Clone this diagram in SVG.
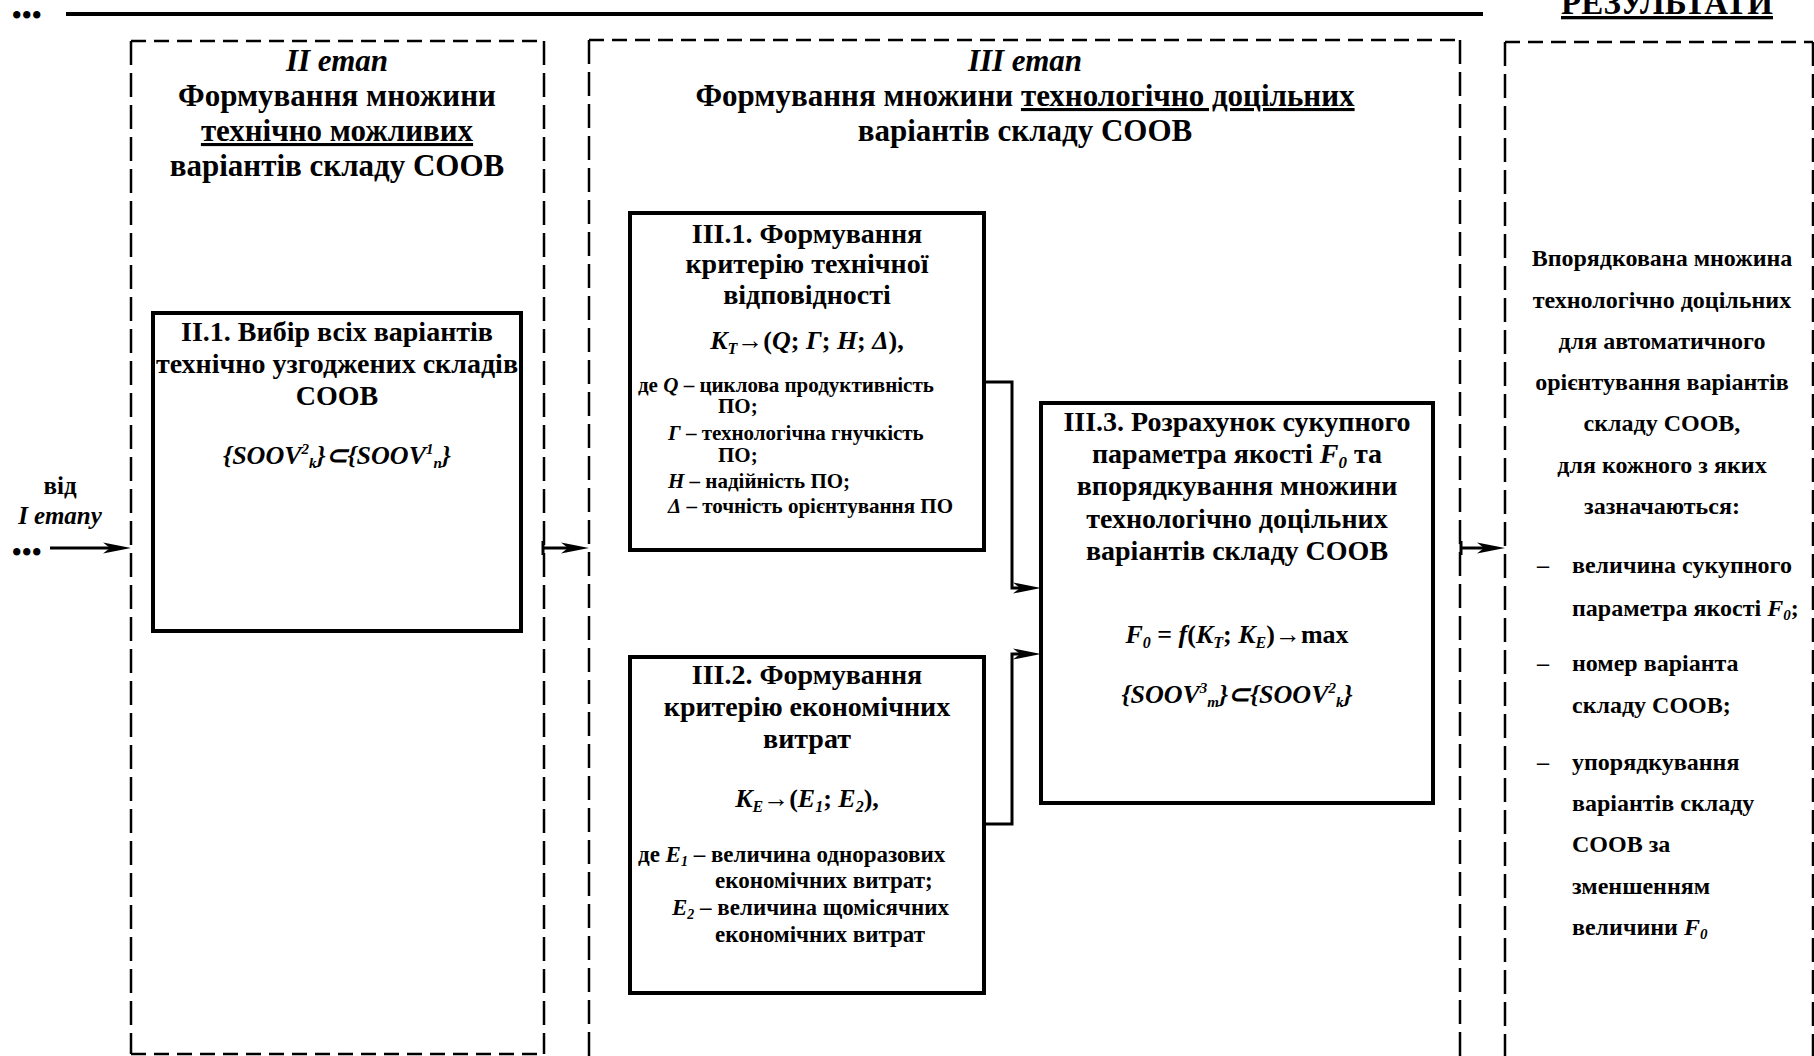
<svg xmlns="http://www.w3.org/2000/svg" width="1814" height="1056" viewBox="0 0 1814 1056">
<style>
.t{font-family:"Liberation Serif","Times New Roman",serif;font-weight:bold;fill:#000}
.c{text-anchor:middle}
.i{font-style:italic}
.u{text-decoration:underline;text-decoration-thickness:3px}
.box{fill:#fff;stroke:#000;stroke-width:4}
.dh{fill:none;stroke:#000;stroke-width:2.5;stroke-dasharray:15 8}
.dv{fill:none;stroke:#000;stroke-width:2.5;stroke-dasharray:24 8}
.conn{fill:none;stroke:#000;stroke-width:3}
.dots{font-size:27px;letter-spacing:0.5px}
.h1{font-size:31px}
.h2{font-size:28px}
.f{font-size:26px}
.s1{font-size:21px}
.s2{font-size:23px}
.r{font-size:24px}
</style>
<defs>
<marker id="ah" markerUnits="userSpaceOnUse" markerWidth="30" markerHeight="14" refX="18" refY="7" orient="auto">
<path d="M0,1.5 L28,7 L0,12.5 L7,7 Z" fill="#000"/>
</marker>
</defs>

<g id="header">
<line x1="66" y1="14" x2="1483" y2="14" stroke="#000" stroke-width="4"/>
<text class="t dots" x="12" y="24">•••</text>
<text class="t c u" x="1667" y="14" font-size="33">РЕЗУЛЬТАТИ</text>
</g>

<g id="stage2">
<path class="dh" d="M131,41 H544 M131,1054 H544"/>
<path class="dv" d="M131,41 V1054 M544,41 V1054"/>
<text class="t c h1 i" x="337" y="71">II етап</text>
<text class="t c h1" x="337" y="106">Формування множини</text>
<text class="t c h1 u" x="337" y="141">технічно можливих</text>
<text class="t c h1" x="337" y="176">варіантів складу СООВ</text>
</g>

<g id="stage3">
<path class="dh" d="M589,40 H1460"/>
<path class="dv" d="M589,40 V1070 M1460,40 V1070"/>
<text class="t c h1 i" x="1025" y="71">III етап</text>
<text class="t c h1" x="1025" y="106">Формування множини <tspan class="u">технологічно доцільних</tspan></text>
<text class="t c h1" x="1025" y="141">варіантів складу СООВ</text>
</g>

<g id="results">
<path class="dh" d="M1505,42 H1813"/>
<path class="dv" d="M1505,42 V1070 M1813,42 V1070"/>
<text class="t c r" x="1662" y="266">Впорядкована множина</text>
<text class="t c r" x="1662" y="308">технологічно доцільних</text>
<text class="t c r" x="1662" y="349">для автоматичного</text>
<text class="t c r" x="1662" y="390">орієнтування варіантів</text>
<text class="t c r" x="1662" y="431">складу СООВ,</text>
<text class="t c r" x="1662" y="473">для кожного з яких</text>
<text class="t c r" x="1662" y="514">зазначаються:</text>
<text class="t c r" x="1543" y="573">–</text>
<text class="t r" x="1572" y="573">величина сукупного</text>
<text class="t r" x="1572" y="616">параметра якості <tspan class="i">F<tspan font-size="15" dy="4">0</tspan></tspan><tspan dy="-4">;</tspan></text>
<text class="t c r" x="1543" y="671">–</text>
<text class="t r" x="1572" y="671">номер варіанта</text>
<text class="t r" x="1572" y="713">складу СООВ;</text>
<text class="t c r" x="1543" y="770">–</text>
<text class="t r" x="1572" y="770">упорядкування</text>
<text class="t r" x="1572" y="811">варіантів складу</text>
<text class="t r" x="1572" y="852">СООВ за</text>
<text class="t r" x="1572" y="894">зменшенням</text>
<text class="t r" x="1572" y="935">величини <tspan class="i">F<tspan font-size="15" dy="4">0</tspan></tspan></text>
</g>

<g id="input">
<text class="t c" x="60" y="494" font-size="25">від</text>
<text class="t c i" x="60" y="524" font-size="25">І етапу</text>
<text class="t dots" x="12" y="561">•••</text>
</g>

<g id="n2_1">
<rect class="box" x="153" y="313" width="368" height="318"/>
<text class="t c h2" x="337" y="341">II.1. Вибір всіх варіантів</text>
<text class="t c h2" x="337" y="373">технічно узгоджених складів</text>
<text class="t c h2" x="337" y="405">СООВ</text>
<text class="t c i f" x="337" y="464">{SOOV<tspan font-size="15" dy="-10">2</tspan><tspan font-size="15" dy="14">k</tspan><tspan dy="-4">}⊂{SOOV</tspan><tspan font-size="15" dy="-10">1</tspan><tspan font-size="15" dy="14">n</tspan><tspan dy="-4">}</tspan></text>
</g>

<g id="n3_1">
<rect class="box" x="630" y="213" width="354" height="337"/>
<text class="t c h2" x="807" y="243">III.1. Формування</text>
<text class="t c h2" x="807" y="273">критерію технічної</text>
<text class="t c h2" x="807" y="304">відповідності</text>
<text class="t c f" x="807" y="349"><tspan class="i">K<tspan font-size="16" dy="5">T</tspan></tspan><tspan dy="-5">→(</tspan><tspan class="i">Q</tspan>; <tspan class="i">Г</tspan>; <tspan class="i">H</tspan>; <tspan class="i">Δ</tspan>),</text>
<text class="t s1" x="638" y="392">де <tspan class="i">Q</tspan> – циклова продуктивність</text>
<text class="t s1" x="718" y="413">ПО;</text>
<text class="t s1" x="668" y="440"><tspan class="i">Г</tspan> – технологічна гнучкість</text>
<text class="t s1" x="718" y="462">ПО;</text>
<text class="t s1" x="668" y="488"><tspan class="i">Н</tspan> – надійність ПО;</text>
<text class="t s1" x="668" y="513"><tspan class="i">Δ</tspan> – точність орієнтування ПО</text>
</g>

<g id="n3_2">
<rect class="box" x="630" y="657" width="354" height="336"/>
<text class="t c h2" x="807" y="684">III.2. Формування</text>
<text class="t c h2" x="807" y="716">критерію економічних</text>
<text class="t c h2" x="807" y="748">витрат</text>
<text class="t c f" x="807" y="807"><tspan class="i">K<tspan font-size="16" dy="5">E</tspan></tspan><tspan dy="-5">→(</tspan><tspan class="i">E<tspan font-size="16" dy="5">1</tspan></tspan><tspan dy="-5">; </tspan><tspan class="i">E<tspan font-size="16" dy="5">2</tspan></tspan><tspan dy="-5">),</tspan></text>
<text class="t s2" x="638" y="862">де <tspan class="i">E<tspan font-size="14" dy="4">1</tspan></tspan><tspan dy="-4"> – величина одноразових</tspan></text>
<text class="t s2" x="715" y="888">економічних витрат;</text>
<text class="t s2" x="672" y="915"><tspan class="i">E<tspan font-size="14" dy="4">2</tspan></tspan><tspan dy="-4"> – величина щомісячних</tspan></text>
<text class="t s2" x="715" y="942">економічних витрат</text>
</g>

<g id="n3_3">
<rect class="box" x="1041" y="403" width="392" height="400"/>
<text class="t c h2" x="1237" y="431">III.3. Розрахунок сукупного</text>
<text class="t c h2" x="1237" y="463">параметра якості <tspan class="i">F<tspan font-size="17" dy="5">0</tspan></tspan><tspan dy="-5"> та</tspan></text>
<text class="t c h2" x="1237" y="495">впорядкування множини</text>
<text class="t c h2" x="1237" y="528">технологічно доцільних</text>
<text class="t c h2" x="1237" y="560">варіантів складу СООВ</text>
<text class="t c f" x="1237" y="643"><tspan class="i">F<tspan font-size="16" dy="5">0</tspan></tspan><tspan dy="-5"> = </tspan><tspan class="i">f</tspan>(<tspan class="i">K<tspan font-size="16" dy="5">T</tspan></tspan><tspan dy="-5">; </tspan><tspan class="i">K<tspan font-size="16" dy="5">E</tspan></tspan><tspan dy="-5">)→max</tspan></text>
<text class="t c i f" x="1237" y="703">{SOOV<tspan font-size="15" dy="-10">3</tspan><tspan font-size="15" dy="14">m</tspan><tspan dy="-4">}⊂{SOOV</tspan><tspan font-size="15" dy="-10">2</tspan><tspan font-size="15" dy="14">k</tspan><tspan dy="-4">}</tspan></text>
</g>

<g id="connectors">
<path class="conn" d="M50,548 H121" marker-end="url(#ah)"/>
<path class="conn" d="M543,541 V555 M543,548 H579" marker-end="url(#ah)"/>
<path class="conn" d="M1461,541 V555 M1461,548 H1495" marker-end="url(#ah)"/>
<path class="conn" d="M984,382 H1012 V588 H1031" marker-end="url(#ah)"/>
<path class="conn" d="M984,824 H1012 V654 H1031" marker-end="url(#ah)"/>
</g>
</svg>
